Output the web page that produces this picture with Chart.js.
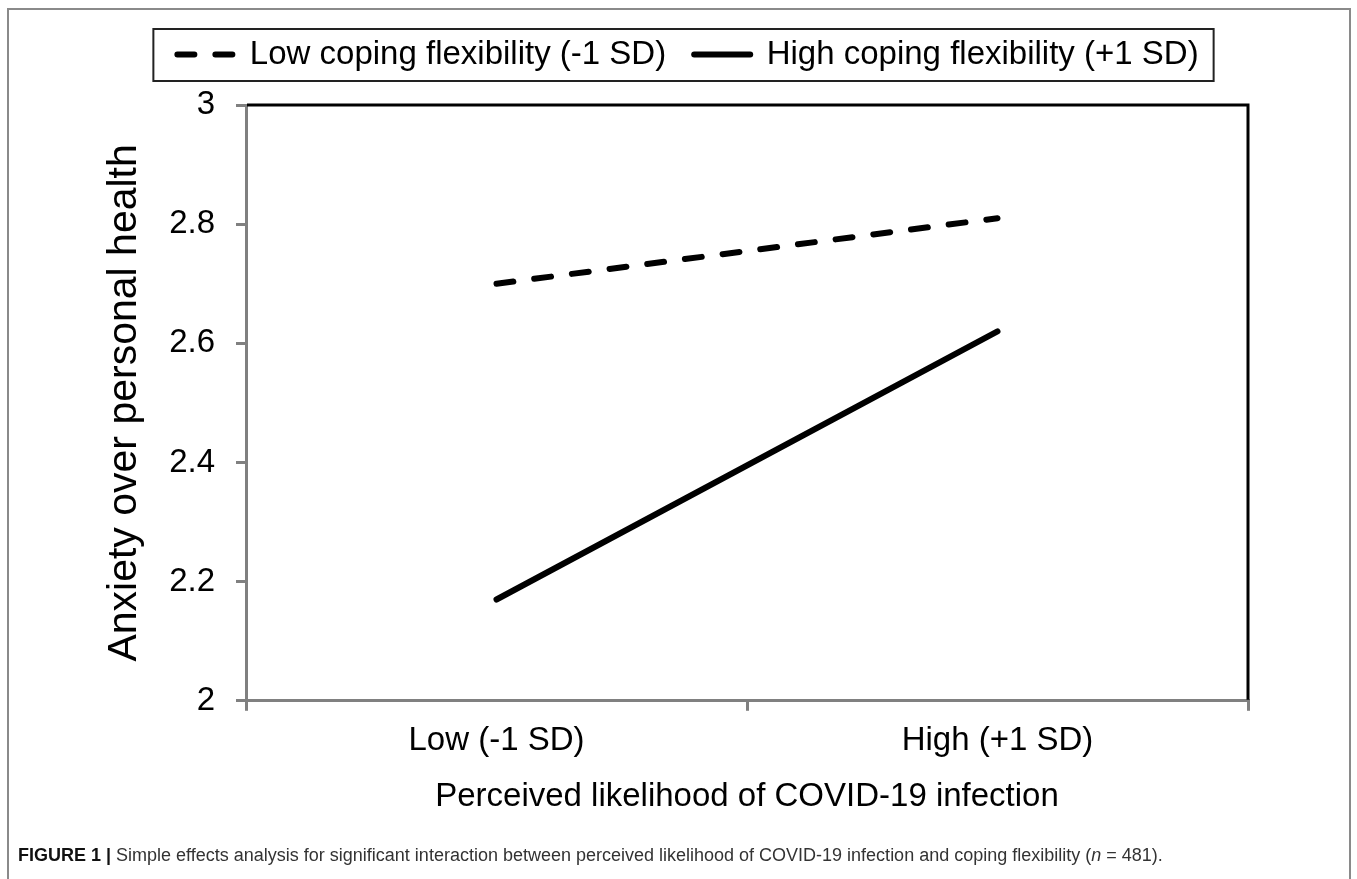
<!DOCTYPE html>
<html>
<head>
<meta charset="utf-8">
<script src="https://cdn.jsdelivr.net/npm/chart.js@4.4.1/dist/chart.umd.min.js"></script>
<style>
  html, body { margin:0; padding:0; background:#fff; width:1357px; height:879px; overflow:hidden; position:relative; }
  #frame { position:absolute; left:7px; top:8px; width:1340px; height:900px; border:2px solid #8a8a8a; border-bottom:none; }
  #c { position:absolute; left:0; top:0; }
  #cap { position:absolute; left:18px; top:845px; font-family:"Liberation Sans", Arial, sans-serif; font-size:18px; line-height:20px; color:#333; white-space:nowrap; }
  #cap b { color:#111; }
</style>
</head>
<body>
<div id="frame"></div>
<canvas id="c" width="1357" height="879"></canvas>
<div id="cap"><b>FIGURE 1 |</b> Simple effects analysis for significant interaction between perceived likelihood of COVID-19 infection and coping flexibility (<i>n</i> = 481).</div>
<script>
// ---- data ----
const categories = ["Low (-1 SD)", "High (+1 SD)"];
const seriesNames = ["Low coping flexibility (-1 SD)", "High coping flexibility (+1 SD)"];
const lowFlexibility = [2.70, 2.81];
const highFlexibility = [2.17, 2.62];
const yMin = 2, yMax = 3, yStep = 0.2;
const xTitle = "Perceived likelihood of COVID-19 infection";
const yTitle = "Anxiety over personal health";

const FAMILY = '"Liberation Sans", Arial, sans-serif';
const FONT = { family: FAMILY, size: 33 };
const YTITLE_FONT = { family: FAMILY, size: 41 };
const GRAY = '#808080';

Chart.defaults.color = '#000';
Chart.defaults.font.family = FAMILY;

const framePlugin = {
  id: 'framePlugin',
  beforeLayout(chart) {
    const lg = chart.legend;
    if (lg && !lg._fixedFit) {
      const f = lg.fit;
      lg.fit = function () { f.call(this); this.height = 95; };
      lg._fixedFit = true;
    }
  },
  afterLayout(chart) {
    const lg = chart.legend;
    if (lg) { lg.left += 14; lg.right += 14; }
  },
  afterDraw(chart) {
    const { ctx, chartArea: { left, top, right, bottom } } = chart;
    ctx.save();
    ctx.strokeStyle = '#000';
    ctx.lineWidth = 3;
    ctx.lineCap = 'butt';
    ctx.beginPath();
    ctx.moveTo(left + 1, top);
    ctx.lineTo(right, top);
    ctx.lineTo(right, bottom - 1);
    ctx.stroke();
    const hb = chart.legend.legendHitBoxes;
    if (hb && hb.length) {
      const last = hb[hb.length - 1];
      const x0 = hb[0].left - 24, x1 = last.left + last.width + 15;
      const y0 = hb[0].top - 9, y1 = hb[0].top + hb[0].height + 10;
      ctx.strokeStyle = '#222';
      ctx.lineWidth = 2;
      ctx.strokeRect(x0, y0, x1 - x0, y1 - y0);
    }
    ctx.restore();
  }
};

new Chart(document.getElementById('c'), {
  type: 'line',
  data: {
    labels: categories,
    datasets: [
      {
        label: seriesNames[0],
        data: lowFlexibility,
        borderColor: '#000',
        backgroundColor: '#000',
        borderWidth: 6,
        borderDash: [17, 21],
        borderCapStyle: 'round',
        pointRadius: 0,
        fill: false,
        tension: 0
      },
      {
        label: seriesNames[1],
        data: highFlexibility,
        borderColor: '#000',
        backgroundColor: '#000',
        borderWidth: 6,
        borderCapStyle: 'round',
        pointRadius: 0,
        fill: false,
        tension: 0
      }
    ]
  },
  options: {
    responsive: false,
    animation: false,
    devicePixelRatio: 1,
    layout: { padding: { left: 100, right: 109, top: 10, bottom: 62 } },
    plugins: {
      legend: {
        position: 'top',
        labels: {
          usePointStyle: true,
          pointStyle: 'line',
          pointStyleWidth: 56,
          padding: 28,
          color: '#000',
          font: FONT,
          generateLabels(chart) {
            const items = Chart.defaults.plugins.legend.labels.generateLabels(chart);
            items.forEach(it => {
              const ds = chart.data.datasets[it.datasetIndex];
              it.lineDash = ds.borderDash || [];
              it.lineCap = ds.borderCapStyle || 'butt';
              it.lineWidth = ds.borderWidth;
              it.strokeStyle = ds.borderColor;
            });
            return items;
          }
        }
      },
      tooltip: { enabled: false }
    },
    scales: {
      x: {
        type: 'category',
        offset: true,
        grid: { offset: true, drawOnChartArea: false, drawTicks: true, tickLength: 10, color: GRAY, lineWidth: 3 },
        border: { display: true, color: GRAY, width: 3 },
        ticks: { color: '#000', font: FONT, padding: 10 },
        title: { display: true, text: xTitle, color: '#000', font: FONT, padding: { top: 7, bottom: 0 } }
      },
      y: {
        min: yMin,
        max: yMax,
        grid: { drawOnChartArea: false, drawTicks: true, tickLength: 10, color: GRAY, lineWidth: 3 },
        border: { display: true, color: GRAY, width: 3 },
        ticks: {
          stepSize: yStep, color: '#000', font: FONT, padding: 21,
          callback: v => String(Number(v.toFixed(1)))
        },
        title: { display: true, text: yTitle, color: '#000', font: YTITLE_FONT, padding: { top: 0, bottom: 0 } },
        afterFit(scale) { scale.width = 146; }
      }
    }
  },
  plugins: [framePlugin]
});
</script>
</body>
</html>
